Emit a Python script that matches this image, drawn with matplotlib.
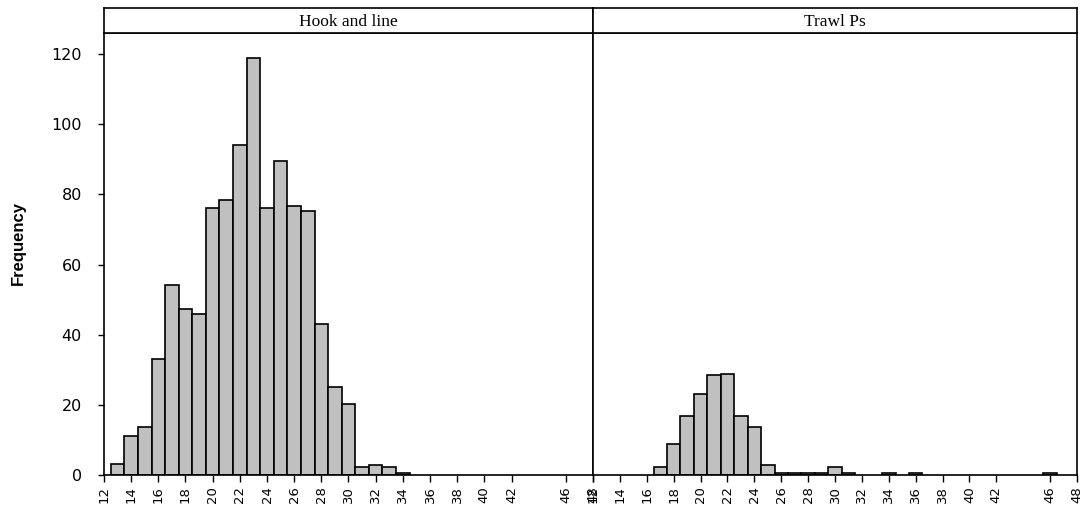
import numpy as np
import matplotlib.pyplot as plt

# length bins (cm), one unit wide, centred on integers
hook_len = [13, 14, 15, 16, 17, 18, 19, 20, 21, 22, 23, 24, 25, 26, 27, 28, 29, 30, 31, 32, 33, 34]
hook_freq = [3, 11, 13.6, 33.2, 54.3, 47.2, 45.8, 76, 78.3, 94, 119, 76, 89.5, 76.6, 75.2, 43, 25, 20.2, 2.2, 2.9, 2.2, 0.7]

trawl_len = [17, 18, 19, 20, 21, 22, 23, 24, 25, 26, 27, 28, 29, 30, 31, 34, 36, 46]
trawl_freq = [2.2, 8.7, 16.9, 23, 28.5, 28.9, 16.9, 13.6, 2.8, 0.5, 0.5, 0.5, 0.5, 2.4, 0.7, 0.5, 0.5, 0.5]

panel_titles = ['Hook and line', 'Trawl Ps']
x_ticks = [12, 14, 16, 18, 20, 22, 24, 26, 28, 30, 32, 34, 36, 38, 40, 42, 46, 48]
y_ticks = [0, 20, 40, 60, 80, 100, 120]

serif = 'Liberation Serif'
sans = 'DejaVu Sans'

W, H = 1086, 513
fig = plt.figure(figsize=(W / 100, H / 100), dpi=100)

# panel extents in pixels (left, right)
panels = [(104, 593), (593, 1077)]
y_bot, y_top, strip_top = 475, 33, 8

data = [(hook_len, hook_freq), (trawl_len, trawl_freq)]

for i, ((x0, x1), (lens, freqs), title) in enumerate(zip(panels, data, panel_titles)):
    ax = fig.add_axes([x0 / W, 1 - y_bot / H, (x1 - x0) / W, (y_bot - y_top) / H])
    ax.bar(lens, freqs, width=1, color='#c0c0c0', edgecolor='black', linewidth=1.2)
    ax.set_xlim(12, 48)
    ax.set_ylim(0, 126)
    ax.set_xticks(x_ticks)
    ax.set_xticklabels([str(t) for t in x_ticks], rotation=90, fontsize=9.5, family=sans)
    ax.tick_params(axis='x', length=5, width=1, pad=3, direction='out')
    if i == 0:
        ax.set_yticks(y_ticks)
        ax.set_yticklabels([str(t) for t in y_ticks], fontsize=11.5, family=sans)
        ax.tick_params(axis='y', length=4, width=1, pad=12, direction='out')
    else:
        ax.set_yticks([])
    for s in ax.spines.values():
        s.set_linewidth(1.2)

    # strip header
    st = fig.add_axes([x0 / W, 1 - y_top / H, (x1 - x0) / W, (y_top - strip_top) / H])
    st.set_xticks([])
    st.set_yticks([])
    for s in st.spines.values():
        s.set_linewidth(1.2)
    st.text(0.5, 0.45, title, ha='center', va='center', fontsize=12.5, family=serif,
            transform=st.transAxes)

fig.text(18 / W, 1 - 243 / H, 'Frequency', rotation=90, ha='center', va='center',
         fontsize=12, fontweight='bold', family='Liberation Sans')

plt.savefig('out.png', dpi=100)
